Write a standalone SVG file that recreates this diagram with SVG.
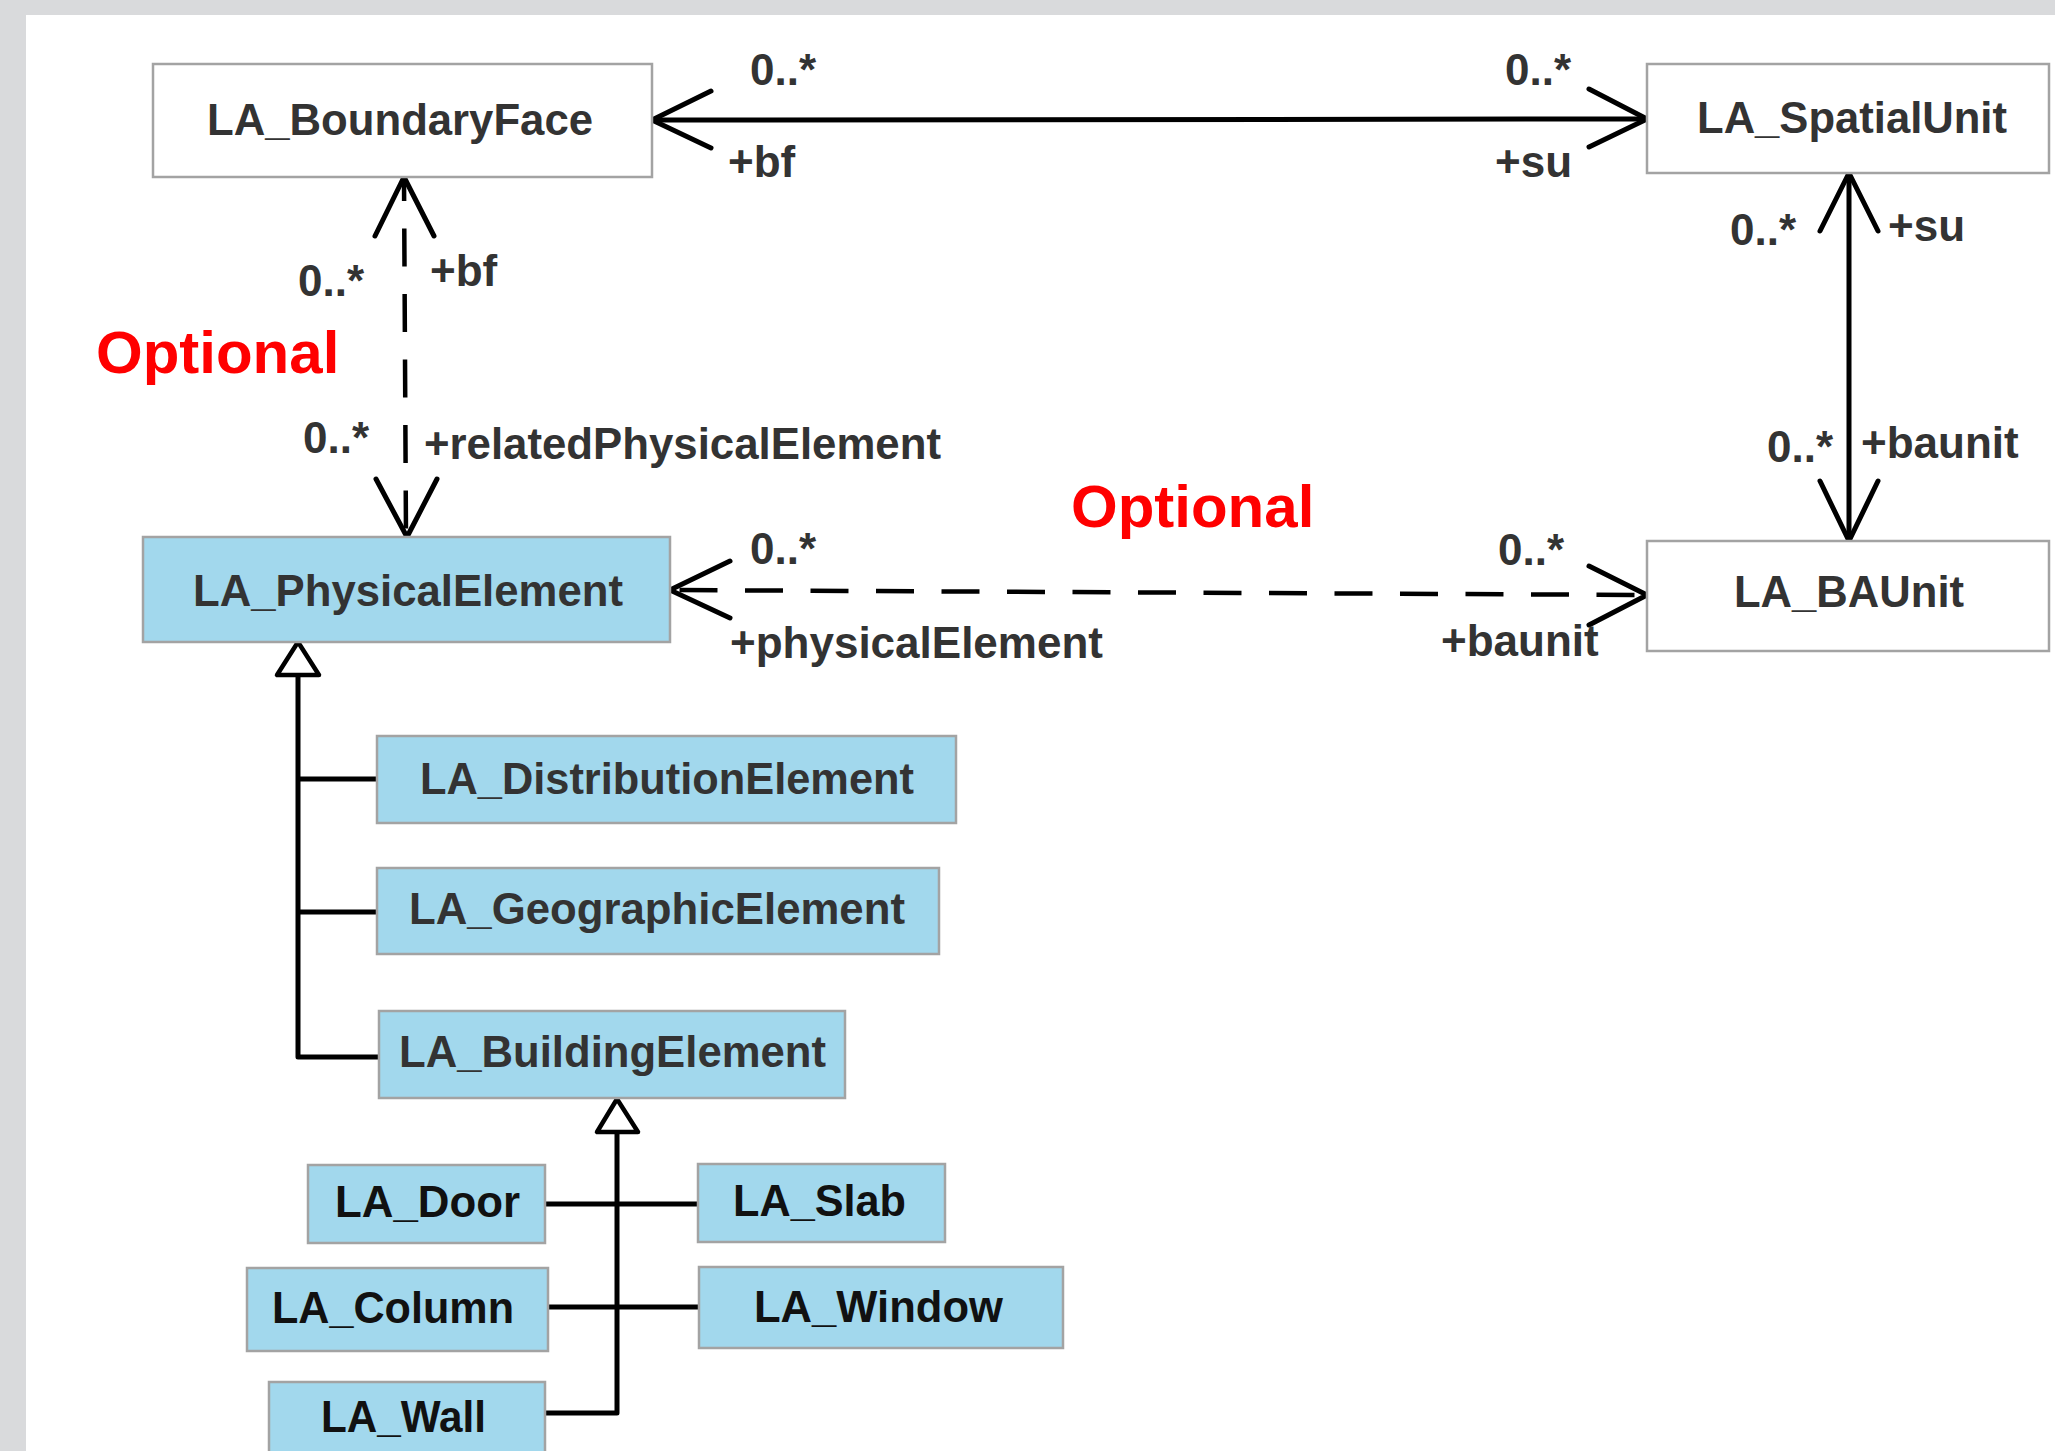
<svg xmlns="http://www.w3.org/2000/svg" width="2055" height="1451" viewBox="0 0 2055 1451">
<style>
.box{stroke:#a3a3a3;stroke-width:2.5}
.w{fill:#ffffff}
.b{fill:#a2d8ed}
.name{font-family:"Liberation Sans",Arial,sans-serif;font-weight:bold;font-size:44px;fill:#333333}
.dk{fill:#111111}
.lbl{font-family:"Liberation Sans",Arial,sans-serif;font-weight:bold;font-size:44px;fill:#333333}
.opt{font-family:"Liberation Sans",Arial,sans-serif;font-weight:bold;font-size:60px;fill:#ff0000}
.ln{fill:none;stroke:#000;stroke-width:5;stroke-linecap:round;stroke-linejoin:round}
.dash{fill:none;stroke:#000;stroke-width:4.5;stroke-dasharray:38 27.5}
.tri{fill:#fff;stroke:#000;stroke-width:4.5;stroke-linejoin:round}
</style>
<rect x="0" y="0" width="2055" height="1451" fill="#d9dadc"/>
<rect x="26" y="15" width="2029" height="1436" fill="#ffffff"/>

<g id="connectors">
  <line class="ln" x1="652" y1="120" x2="1647" y2="119"/>
  <polyline class="ln" points="711,91 652,120 711,148"/>
  <polyline class="ln" points="1589,89 1647,119 1589,147"/>

  <line class="dash" x1="404" y1="177" x2="406" y2="537" stroke-dashoffset="14"/>
  <polyline class="ln" points="375,236 404,177 434,236"/>
  <polyline class="ln" points="376,479 407,537 437,479"/>

  <line class="dash" x1="670" y1="590" x2="1647" y2="595" stroke-dashoffset="56"/>
  <polyline class="ln" points="730,561 670,590 730,618"/>
  <polyline class="ln" points="1589,566 1647,595 1589,625"/>

  <line class="ln" x1="1849" y1="173" x2="1849" y2="541"/>
  <polyline class="ln" points="1820,231 1849,173 1878,231"/>
  <polyline class="ln" points="1820,481 1849,541 1878,481"/>

  <path class="ln" d="M298 675 V1057 H379 M298 779 H377 M298 912 H377"/>
  <polygon class="tri" points="298,642 277,675 319,675"/>

  <path class="ln" d="M617 1132 V1413 H545 M545 1204 H698 M548 1307 H699"/>
  <polygon class="tri" points="617,1099 597,1132 638,1132"/>
</g>

<g id="labels">
  <text class="lbl" x="750" y="85">0..*</text>
  <text class="lbl" x="728" y="177">+bf</text>
  <text class="lbl" x="1505" y="85">0..*</text>
  <text class="lbl" x="1495" y="177">+su</text>
  <text class="lbl" x="298" y="296">0..*</text>
  <text class="lbl" x="430" y="286">+bf</text>
  <text class="opt" x="96" y="373">Optional</text>
  <text class="lbl" x="303" y="453">0..*</text>
  <text class="lbl" x="424" y="459" textLength="517" lengthAdjust="spacingAndGlyphs">+relatedPhysicalElement</text>
  <text class="lbl" x="1730" y="245">0..*</text>
  <text class="lbl" x="1888" y="241">+su</text>
  <text class="lbl" x="1767" y="462">0..*</text>
  <text class="lbl" x="1861" y="458">+baunit</text>
  <text class="opt" x="1071" y="527">Optional</text>
  <text class="lbl" x="750" y="564">0..*</text>
  <text class="lbl" x="730" y="658">+physicalElement</text>
  <text class="lbl" x="1498" y="565">0..*</text>
  <text class="lbl" x="1441" y="656">+baunit</text>
</g>

<g id="LA_BoundaryFace"><rect class="box w" x="153" y="64" width="499" height="113"/><text class="name" x="207" y="135" textLength="386" lengthAdjust="spacingAndGlyphs">LA_BoundaryFace</text></g>
<g id="LA_SpatialUnit"><rect class="box w" x="1647" y="64" width="402" height="109"/><text class="name" x="1697" y="133" textLength="310" lengthAdjust="spacingAndGlyphs">LA_SpatialUnit</text></g>
<g id="LA_PhysicalElement"><rect class="box b" x="143" y="537" width="527" height="105"/><text class="name" x="193" y="606" textLength="430" lengthAdjust="spacingAndGlyphs">LA_PhysicalElement</text></g>
<g id="LA_BAUnit"><rect class="box w" x="1647" y="541" width="402" height="110"/><text class="name" x="1734" y="607" textLength="230" lengthAdjust="spacingAndGlyphs">LA_BAUnit</text></g>
<g id="LA_DistributionElement"><rect class="box b" x="377" y="736" width="579" height="87"/><text class="name" x="420" y="794" textLength="494" lengthAdjust="spacingAndGlyphs">LA_DistributionElement</text></g>
<g id="LA_GeographicElement"><rect class="box b" x="377" y="868" width="562" height="86"/><text class="name" x="409" y="924" textLength="496" lengthAdjust="spacingAndGlyphs">LA_GeographicElement</text></g>
<g id="LA_BuildingElement"><rect class="box b" x="379" y="1011" width="466" height="87"/><text class="name" x="399" y="1067" textLength="427" lengthAdjust="spacingAndGlyphs">LA_BuildingElement</text></g>
<g id="LA_Door"><rect class="box b" x="308" y="1165" width="237" height="78"/><text class="name dk" x="335" y="1217" textLength="185" lengthAdjust="spacingAndGlyphs">LA_Door</text></g>
<g id="LA_Slab"><rect class="box b" x="698" y="1164" width="247" height="78"/><text class="name dk" x="733" y="1216" textLength="173" lengthAdjust="spacingAndGlyphs">LA_Slab</text></g>
<g id="LA_Column"><rect class="box b" x="247" y="1268" width="301" height="83"/><text class="name dk" x="272" y="1323" textLength="242" lengthAdjust="spacingAndGlyphs">LA_Column</text></g>
<g id="LA_Window"><rect class="box b" x="699" y="1267" width="364" height="81"/><text class="name dk" x="754" y="1322" textLength="249" lengthAdjust="spacingAndGlyphs">LA_Window</text></g>
<g id="LA_Wall"><rect class="box b" x="269" y="1382" width="276" height="90"/><text class="name dk" x="321" y="1432" textLength="165" lengthAdjust="spacingAndGlyphs">LA_Wall</text></g>
</svg>
